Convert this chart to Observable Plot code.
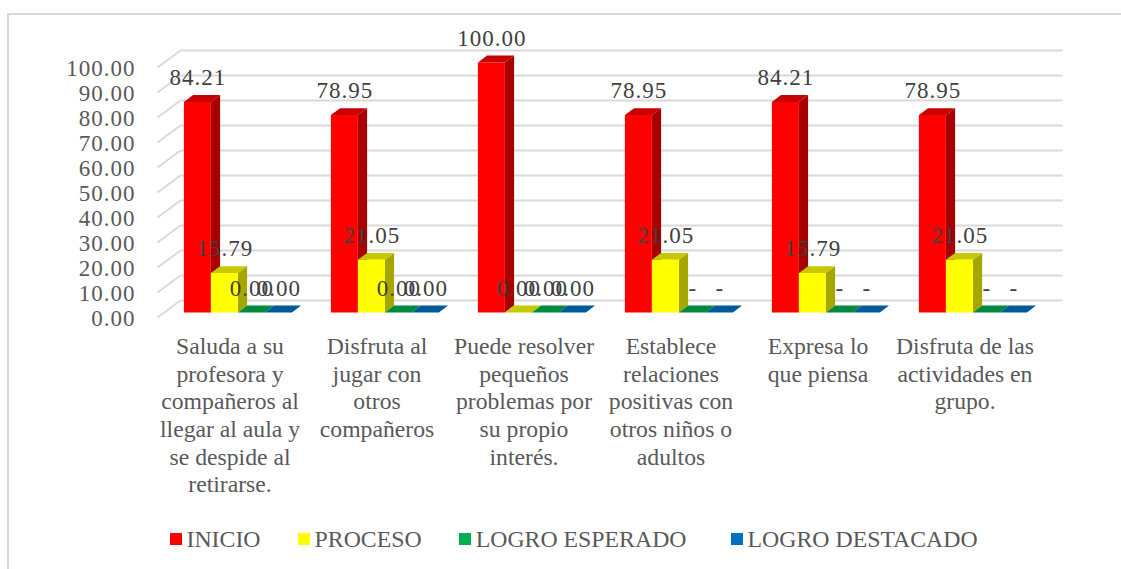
<!DOCTYPE html>
<html lang="es">
<head>
<meta charset="utf-8">
<script src="https://cdn.jsdelivr.net/npm/d3@7"></script>
<script src="https://cdn.jsdelivr.net/npm/@observablehq/plot@0.6"></script>
<style>
html,body{margin:0;padding:0;background:#fff}
#page{position:relative;width:1121px;height:569px;overflow:hidden}
#frame{position:absolute;left:7px;top:13px;right:-5px;bottom:0;border-left:2px solid #d9d9d9;border-top:2px solid #d9d9d9;pointer-events:none}
#chart{position:absolute;left:0;top:0}
#chart svg{display:block;background:transparent}
.num text{letter-spacing:1px}
#legend{position:absolute;left:170px;top:520px;height:38px;display:flex;align-items:center;gap:37.5px;font:23.8px "Liberation Serif",serif;color:#595959;white-space:nowrap}
#legend span.item{display:inline-flex;align-items:center;gap:4.5px}
#legend span.item:last-child{margin-left:7px}
#legend i{display:inline-block;width:12px;height:12px}
</style>
</head>
<body>
<div id="page"><div id="frame"></div><div id="chart"></div><div id="legend"></div></div>
<script>
const categories = [
  "Saluda a su\nprofesora y\ncompañeros al\nllegar al aula y\nse despide al\nretirarse.",
  "Disfruta al\njugar con\notros\ncompañeros",
  "Puede resolver\npequeños\nproblemas por\nsu propio\ninterés.",
  "Establece\nrelaciones\npositivas con\notros niños o\nadultos",
  "Expresa lo\nque piensa",
  "Disfruta de las\nactividades en\ngrupo."
];
const seriesNames = ["INICIO", "PROCESO", "LOGRO ESPERADO", "LOGRO DESTACADO"];
const inicio = [84.21, 78.95, 100, 78.95, 84.21, 78.95];
const proceso = [15.79, 21.05, 0, 21.05, 15.79, 21.05];
const esperado = [0, 0, 0, 0, 0, 0];
const destacado = [0, 0, 0, 0, 0, 0];
const inicioLabels = ["84.21", "78.95", "100.00", "78.95", "84.21", "78.95"];
const procesoLabels = ["15.79", "21.05", "0.00", "21.05", "15.79", "21.05"];
const esperadoLabels = ["0.00", "0.00", "0.00", "-", "-", "-"];
const destacadoLabels = ["0.00", "0.00", "0.00", "-", "-", "-"];
const legendColors = ["#ff0000", "#ffff00", "#00b050", "#0070c0"];
const frontColors = ["#ff0000", "#ffff00", "#00b050", "#0070c0"];
const sideColors = ["#a60000", "#a6a600", "#006b30", "#004a80"];
const topColors = ["#c80000", "#c8c800", "#008a3e", "#005a9a"];
const yTicks = d3.range(0, 101, 10);

const allValues = [inicio, proceso, esperado, destacado];
const allLabels = [inicioLabels, procesoLabels, esperadoLabels, destacadoLabels];

// oblique 3-D projection, expressed in data units of the two scales
const xPerDepth = 23 / 147, yPerDepth = 6.8;
const px = (c, z) => c + z * xPerDepth;
const py = (v, z) => v + z * yPerDepth;
const barW = 0.1837, start = (1 - 4 * barW) / 2, z0 = 0.3, z1 = 0.7;

const faces = [], labels = [];
categories.forEach((_, i) => {
  allValues.forEach((vals, s) => {
    const v = vals[i], a = i + start + s * barW, b = a + barW;
    const add = (kind, color, pts) => pts.forEach(([c, val, z]) =>
      faces.push({id: `${i}-${s}-${kind}`, color, x: px(c, z), y: py(val, z)}));
    add("side", sideColors[s], [[b,0,z0],[b,0,z1],[b,v,z1],[b,v,z0]]);
    add("top", topColors[s], [[a,v,z0],[b,v,z0],[b,v,z1],[a,v,z1]]);
    if (v > 0) add("front", frontColors[s], [[a,0,z0],[b,0,z0],[b,v,z0],[a,v,z0]]);
    labels.push({x: px(a + barW / 2, z0), y: py(v, z0), text: allLabels[s][i]});
  });
});

const plot = Plot.plot({
  width: 1121, height: 520,
  marginLeft: 157, marginRight: 0, marginTop: 0, marginBottom: 0,
  style: {fontFamily: '"Liberation Serif", serif', background: "transparent", overflow: "visible"},
  x: {domain: [0, 6], range: [157, 1039], axis: null},
  y: {domain: [0, 100], range: [317, 67]},
  marks: [
    Plot.link(yTicks, {x1: 0, y1: d => d, x2: px(0, 1), y2: d => py(d, 1), stroke: "#d9d9d9", strokeWidth: 2, strokeOpacity: 1}),
    Plot.link(yTicks, {x1: px(0, 1), y1: d => py(d, 1), x2: px(6, 1), y2: d => py(d, 1), stroke: "#d9d9d9", strokeWidth: 2}),
    Plot.axisY({ticks: yTicks, tickFormat: d3.format(".2f"), tickSize: 0, tickPadding: 22, fontSize: 23, fill: "#595959", label: null, dy: 1, className: "num"}),
    Plot.line(faces, {x: "x", y: "y", z: "id", fill: {value: d => d.color, scale: null}, stroke: "none"}),
    Plot.text(labels, {x: "x", y: "y", text: "text", dy: -24, dx: 0.5, fontSize: 23, fill: "#404040", className: "num"}),
    Plot.text(categories, {x: (d, i) => i + 0.5, y: () => 0, text: d => d, dy: 17, dx: -1, lineAnchor: "top", lineHeight: 1.165, fontSize: 23.7, fill: "#595959"})
  ]
});
document.getElementById("chart").appendChild(plot);

const legend = document.getElementById("legend");
seriesNames.forEach((n, i) => {
  const it = document.createElement("span");
  it.className = "item";
  const sw = document.createElement("i");
  sw.style.background = legendColors[i];
  it.appendChild(sw);
  it.appendChild(document.createTextNode(n));
  legend.appendChild(it);
});
</script>
</body>
</html>
